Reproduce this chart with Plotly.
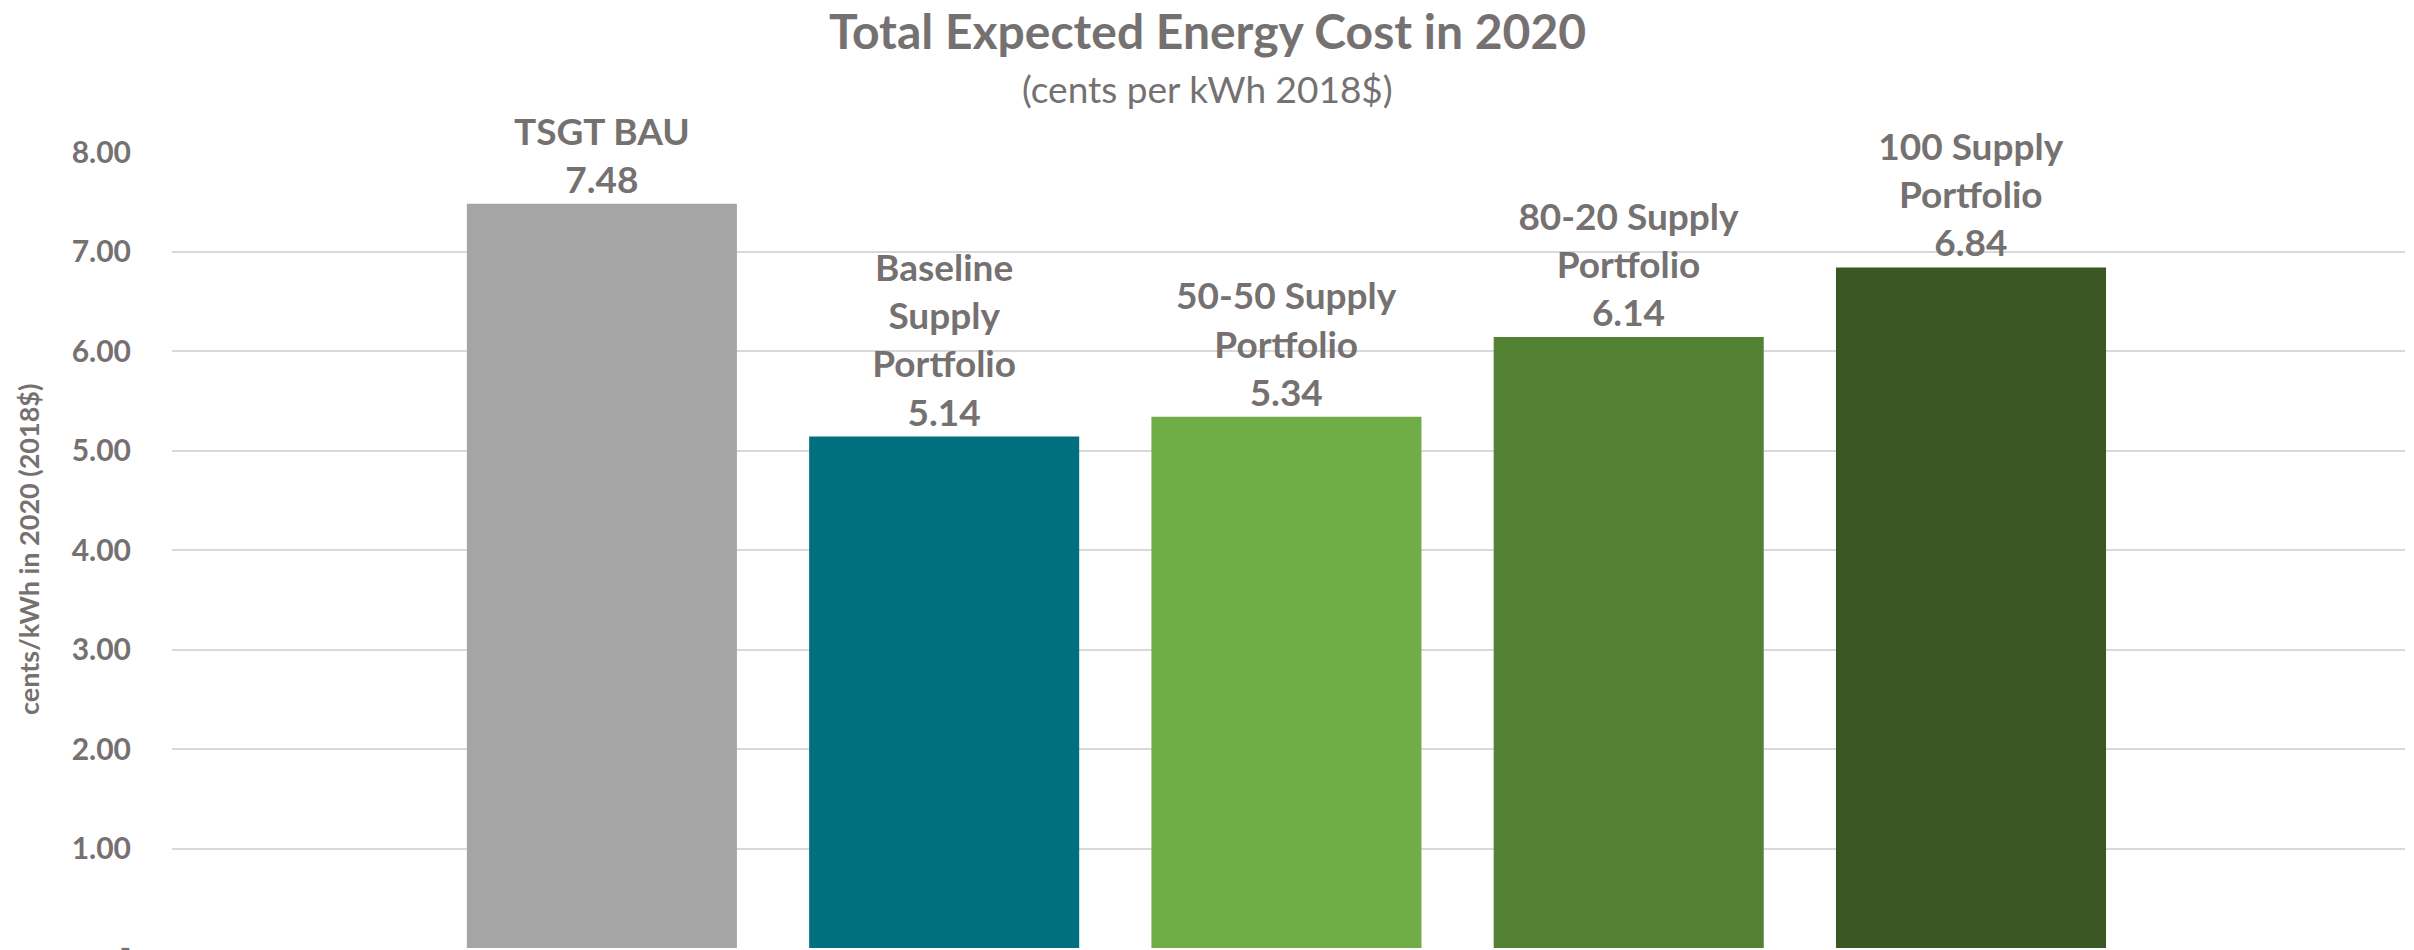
import plotly.graph_objects as go

categories = ["TSGT BAU", "Baseline Supply Portfolio", "50-50 Supply Portfolio",
              "80-20 Supply Portfolio", "100 Supply Portfolio"]
label_lines = ["TSGT BAU", "Baseline<br>Supply<br>Portfolio", "50-50 Supply<br>Portfolio",
               "80-20 Supply<br>Portfolio", "100 Supply<br>Portfolio"]
values = [7.48, 5.14, 5.34, 6.14, 6.84]
colors = ["#A5A5A5", "#00707F", "#70AD47", "#548235", "#3A5724"]
tick_vals = [0, 1, 2, 3, 4, 5, 6, 7, 8]
tick_text = ["-", "1.00", "2.00", "3.00", "4.00", "5.00", "6.00", "7.00", "8.00"]

GRAY = "#767171"
FONT = "Lato"

texts = [f"{l}<br>{v:.2f}" for l, v in zip(label_lines, values)]

fig = go.Figure(go.Bar(
    x=categories, y=values, marker=dict(color=colors, line=dict(width=0)),
    text=texts, textposition="outside", cliponaxis=False, constraintext="none",
    outsidetextfont=dict(family=FONT, size=37, color=GRAY, weight="bold"),
    hoverinfo="skip",
))

fig.update_layout(
    width=2414, height=950,
    margin=dict(l=172, r=9, t=152, b=2, autoexpand=False),
    paper_bgcolor="white", plot_bgcolor="white",
    bargap=0.211, showlegend=False,
    font=dict(family=FONT, color=GRAY),
    xaxis=dict(type="category", range=[-1.256, 5.268], showticklabels=False,
               showgrid=False, zeroline=False, showline=False, ticks="", automargin=False),
    yaxis=dict(range=[0, 8], tickvals=tick_vals, ticktext=tick_text, automargin=False,
               showgrid=True, gridcolor="#D9D9D9", gridwidth=2, zeroline=False,
               showline=False, ticks="", ticklabelstandoff=40, ticklabeloverflow="allow",
               tickfont=dict(family=FONT, size=30, color=GRAY, weight="bold")),
    annotations=[
        dict(text="Total Expected Energy Cost in 2020", xref="paper", yref="paper",
             x=(1207 - 172) / 2233, y=1 + (152 - 30) / 796, xanchor="center", yanchor="middle",
             showarrow=False, font=dict(family=FONT, size=48, color=GRAY, weight="bold")),
        dict(text="(cents per kWh 2018$)", xref="paper", yref="paper",
             x=(1207 - 172) / 2233, y=1 + (152 - 88) / 796, xanchor="center", yanchor="middle",
             showarrow=False, font=dict(family=FONT, size=37, color=GRAY)),
        dict(text="cents/kWh in 2020 (2018$)", xref="paper", yref="paper",
             x=(28 - 172) / 2233, y=0.5, xanchor="center", yanchor="middle", textangle=-90,
             showarrow=False, font=dict(family=FONT, size=27, color=GRAY, weight="bold")),
    ],
)

fig.write_html("out.html")
